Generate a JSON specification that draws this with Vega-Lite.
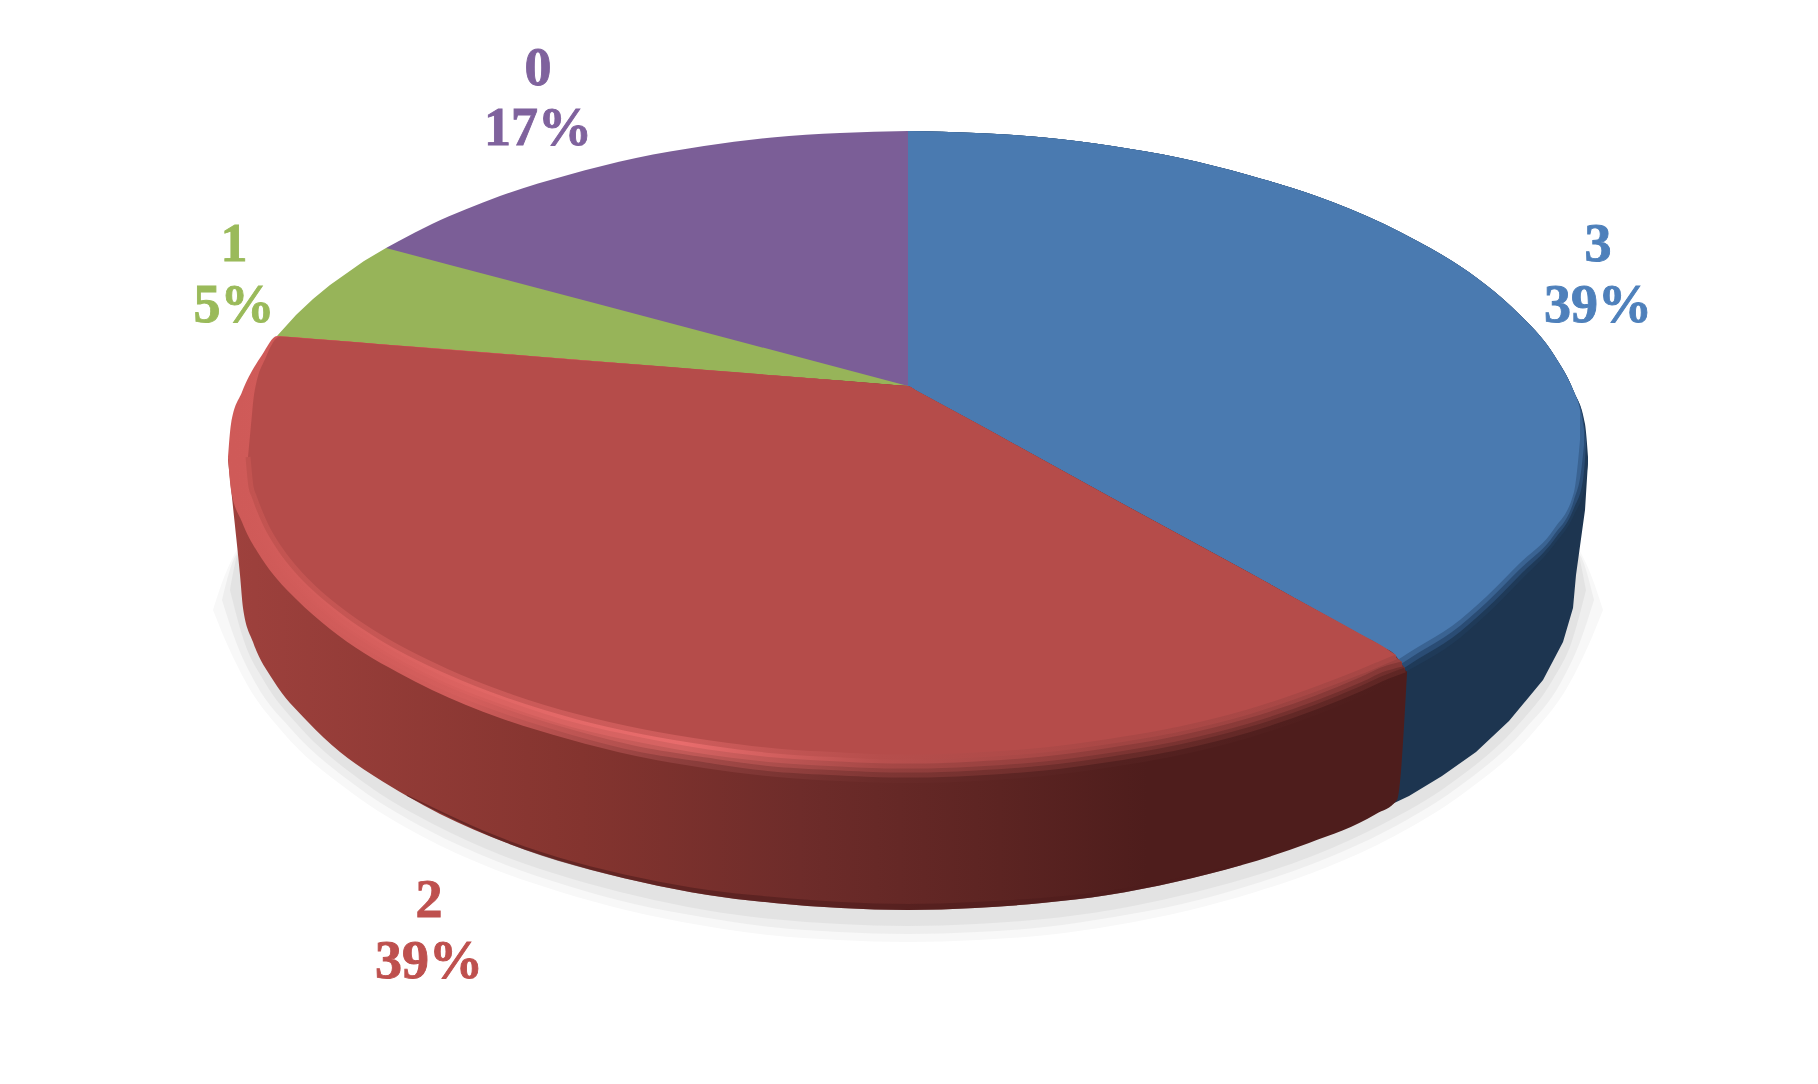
{
"$schema":"https://vega.github.io/schema/vega-lite/v6.json",
"width":1818,"height":1084,"padding":0,"autosize":{"type":"none"},"background":"white",
"config":{"view":{"stroke":null}},
"datasets":{
"shadow":[
{"r":"s0","x":213,"up":610,"lo":610},{"r":"s0","x":227,"up":570,"lo":644},{"r":"s0","x":248,"up":540,"lo":686},{"r":"s0","x":282.5,"up":540,"lo":732},{"r":"s0","x":352,"up":540,"lo":793},{"r":"s0","x":421.5,"up":540,"lo":836},{"r":"s0","x":491,"up":540,"lo":868},{"r":"s0","x":560.5,"up":540,"lo":892},{"r":"s0","x":630,"up":540,"lo":911},{"r":"s0","x":699.5,"up":540,"lo":925},{"r":"s0","x":769,"up":540,"lo":935},{"r":"s0","x":838.5,"up":540,"lo":940},{"r":"s0","x":908,"up":540,"lo":942},{"r":"s0","x":977.5,"up":540,"lo":940},{"r":"s0","x":1047,"up":540,"lo":935},{"r":"s0","x":1116.5,"up":540,"lo":925},{"r":"s0","x":1186,"up":540,"lo":911},{"r":"s0","x":1255.5,"up":540,"lo":892},{"r":"s0","x":1325,"up":540,"lo":868},{"r":"s0","x":1394.5,"up":540,"lo":836},{"r":"s0","x":1464,"up":540,"lo":793},{"r":"s0","x":1533.5,"up":540,"lo":732},{"r":"s0","x":1568,"up":540,"lo":686},{"r":"s0","x":1589,"up":570,"lo":644},{"r":"s0","x":1603,"up":610,"lo":610},
{"r":"s1","x":222,"up":600,"lo":600},{"r":"s1","x":236,"up":555,"lo":642},{"r":"s1","x":256,"up":540,"lo":684},{"r":"s1","x":291,"up":540,"lo":729},{"r":"s1","x":359,"up":540,"lo":788},{"r":"s1","x":428,"up":540,"lo":830},{"r":"s1","x":496,"up":540,"lo":861},{"r":"s1","x":565,"up":540,"lo":885},{"r":"s1","x":634,"up":540,"lo":904},{"r":"s1","x":702,"up":540,"lo":917},{"r":"s1","x":771,"up":540,"lo":927},{"r":"s1","x":839,"up":540,"lo":932},{"r":"s1","x":908,"up":540,"lo":934},{"r":"s1","x":977,"up":540,"lo":932},{"r":"s1","x":1045,"up":540,"lo":927},{"r":"s1","x":1114,"up":540,"lo":917},{"r":"s1","x":1182,"up":540,"lo":904},{"r":"s1","x":1251,"up":540,"lo":885},{"r":"s1","x":1320,"up":540,"lo":861},{"r":"s1","x":1388,"up":540,"lo":830},{"r":"s1","x":1457,"up":540,"lo":788},{"r":"s1","x":1525,"up":540,"lo":729},{"r":"s1","x":1560,"up":540,"lo":684},{"r":"s1","x":1580,"up":555,"lo":642},{"r":"s1","x":1594,"up":600,"lo":600},
{"r":"s2","x":230,"up":590,"lo":590},{"r":"s2","x":244,"up":540,"lo":641},{"r":"s2","x":264,"up":540,"lo":681},{"r":"s2","x":298,"up":540,"lo":725},{"r":"s2","x":366,"up":540,"lo":784},{"r":"s2","x":433,"up":540,"lo":824},{"r":"s2","x":501,"up":540,"lo":855},{"r":"s2","x":569,"up":540,"lo":878},{"r":"s2","x":637,"up":540,"lo":896},{"r":"s2","x":705,"up":540,"lo":910},{"r":"s2","x":772,"up":540,"lo":919},{"r":"s2","x":840,"up":540,"lo":924},{"r":"s2","x":908,"up":540,"lo":926},{"r":"s2","x":976,"up":540,"lo":924},{"r":"s2","x":1044,"up":540,"lo":919},{"r":"s2","x":1111,"up":540,"lo":910},{"r":"s2","x":1179,"up":540,"lo":896},{"r":"s2","x":1247,"up":540,"lo":878},{"r":"s2","x":1315,"up":540,"lo":855},{"r":"s2","x":1383,"up":540,"lo":824},{"r":"s2","x":1450,"up":540,"lo":784},{"r":"s2","x":1518,"up":540,"lo":725},{"r":"s2","x":1552,"up":540,"lo":681},{"r":"s2","x":1572,"up":540,"lo":641},{"r":"s2","x":1586,"up":590,"lo":590}
],
"sideBlue":[{"x":1390,"up":670,"lo":805},{"x":1409,"up":660,"lo":796},{"x":1442,"up":640,"lo":776},{"x":1476,"up":610,"lo":752},{"x":1509,"up":575,"lo":721},{"x":1543,"up":540,"lo":680},{"x":1563,"up":520,"lo":642},{"x":1573,"up":500,"lo":608},{"x":1576,"up":490,"lo":575},{"x":1585,"up":470,"lo":510},{"x":1588,"up":460,"lo":462}],
"sideRed":[{"x":228,"up":457,"lo":460},{"x":233,"up":470,"lo":507},{"x":240,"up":510,"lo":575},{"x":243,"up":515,"lo":608},{"x":253,"up":530,"lo":642},{"x":273,"up":560,"lo":680},{"x":307,"up":595,"lo":721},{"x":340,"up":620,"lo":752},{"x":374,"up":645,"lo":776},{"x":407,"up":665,"lo":796},{"x":440,"up":680,"lo":814},{"x":507,"up":710,"lo":843},{"x":574,"up":730,"lo":865},{"x":641,"up":745,"lo":882},{"x":708,"up":760,"lo":895},{"x":774,"up":770,"lo":903},{"x":841,"up":775,"lo":908},{"x":908,"up":775,"lo":910},{"x":975,"up":775,"lo":908},{"x":1042,"up":770,"lo":903},{"x":1108,"up":760,"lo":895},{"x":1175,"up":745,"lo":882},{"x":1242,"up":730,"lo":865},{"x":1309,"up":705,"lo":843},{"x":1376,"up":680,"lo":814},{"x":1397,"up":670,"lo":800},{"x":1407,"up":665,"lo":673}],
"rim":[{"x":407,"up":795,"lo":796},{"x":507,"up":840,"lo":843},{"x":641,"up":878,"lo":882},{"x":708,"up":890,"lo":895},{"x":774,"up":897,"lo":903},{"x":841,"up":902,"lo":908},{"x":908,"up":904,"lo":910},{"x":975,"up":902,"lo":908},{"x":1042,"up":898,"lo":903},{"x":1108,"up":891,"lo":895},{"x":1175,"up":879,"lo":882},{"x":1242,"up":863,"lo":865}],
"purple":[{"x":386,"up":248,"lo":249},{"x":398,"up":241.5,"lo":252.5},{"x":432,"up":224,"lo":261.5},{"x":466,"up":209.3,"lo":270.5},{"x":500,"up":196,"lo":279.5},{"x":568,"up":175,"lo":297.5},{"x":636,"up":158,"lo":315.5},{"x":704,"up":146,"lo":333.5},{"x":772,"up":137.5,"lo":351.5},{"x":840,"up":133,"lo":369.5},{"x":908,"up":131,"lo":387}],
"green":[{"x":277,"up":336,"lo":337},{"x":296,"up":315,"lo":339},{"x":313,"up":299,"lo":340},{"x":330,"up":285,"lo":341.5},{"x":347,"up":273,"lo":343},{"x":364,"up":261,"lo":344.5},{"x":386,"up":248,"lo":346},{"x":450,"up":264.9,"lo":351},{"x":600,"up":304.6,"lo":363},{"x":750,"up":344.2,"lo":375},{"x":908,"up":386,"lo":387}],
"blueTop":[
{"r":"b0","x":908,"up":131,"lo":765},{"r":"b0","x":976,"up":133,"lo":763},{"r":"b0","x":1044,"up":137.5,"lo":758},{"r":"b0","x":1112,"up":146,"lo":749},{"r":"b0","x":1180,"up":158,"lo":737},{"r":"b0","x":1248,"up":175,"lo":720},{"r":"b0","x":1316,"up":196,"lo":697},{"r":"b0","x":1384,"up":224,"lo":682},{"r":"b0","x":1418,"up":241.5,"lo":665},{"r":"b0","x":1452,"up":261,"lo":644},{"r":"b0","x":1486,"up":285,"lo":615},{"r":"b0","x":1520,"up":315,"lo":581},{"r":"b0","x":1554,"up":355,"lo":545},{"r":"b0","x":1574,"up":392,"lo":515},{"r":"b0","x":1585,"up":424,"lo":485},{"r":"b0","x":1588,"up":457,"lo":462},
{"r":"b1","x":908,"up":131,"lo":765},{"r":"b1","x":976,"up":133,"lo":763},{"r":"b1","x":1044,"up":137.5,"lo":758},{"r":"b1","x":1112,"up":146,"lo":749},{"r":"b1","x":1180,"up":158,"lo":737},{"r":"b1","x":1248,"up":175,"lo":720},{"r":"b1","x":1316,"up":196,"lo":697},{"r":"b1","x":1384,"up":224,"lo":680},{"r":"b1","x":1418,"up":241.5,"lo":659},{"r":"b1","x":1452,"up":261,"lo":638},{"r":"b1","x":1486,"up":285,"lo":609},{"r":"b1","x":1520,"up":315,"lo":575},{"r":"b1","x":1554,"up":355,"lo":540},{"r":"b1","x":1574,"up":392,"lo":508},{"r":"b1","x":1583,"up":418,"lo":480},{"r":"b1","x":1586,"up":440,"lo":445},
{"r":"b2","x":908,"up":131,"lo":765},{"r":"b2","x":976,"up":133,"lo":763},{"r":"b2","x":1044,"up":137.5,"lo":758},{"r":"b2","x":1112,"up":146,"lo":749},{"r":"b2","x":1180,"up":158,"lo":737},{"r":"b2","x":1248,"up":175,"lo":720},{"r":"b2","x":1316,"up":196,"lo":697},{"r":"b2","x":1384,"up":224,"lo":674},{"r":"b2","x":1418,"up":241.5,"lo":653},{"r":"b2","x":1452,"up":261,"lo":632},{"r":"b2","x":1486,"up":285,"lo":603},{"r":"b2","x":1520,"up":315,"lo":569},{"r":"b2","x":1554,"up":355,"lo":535},{"r":"b2","x":1574,"up":392,"lo":500},{"r":"b2","x":1581,"up":412,"lo":472},{"r":"b2","x":1584,"up":430,"lo":445},
{"r":"b3","x":908,"up":131,"lo":765},{"r":"b3","x":976,"up":133,"lo":763},{"r":"b3","x":1044,"up":137.5,"lo":758},{"r":"b3","x":1112,"up":146,"lo":749},{"r":"b3","x":1180,"up":158,"lo":737},{"r":"b3","x":1248,"up":175,"lo":720},{"r":"b3","x":1316,"up":196,"lo":697},{"r":"b3","x":1384,"up":224,"lo":668},{"r":"b3","x":1418,"up":241.5,"lo":647},{"r":"b3","x":1452,"up":261,"lo":626},{"r":"b3","x":1486,"up":285,"lo":597},{"r":"b3","x":1520,"up":315,"lo":563},{"r":"b3","x":1554,"up":355,"lo":529},{"r":"b3","x":1574,"up":392,"lo":492},{"r":"b3","x":1578,"up":402,"lo":462},{"r":"b3","x":1580,"up":410,"lo":440}
],
"red0":[{"x":228,"up":457,"lo":457},{"x":231,"up":424,"lo":490},{"x":242,"up":392,"lo":522},{"x":262,"up":355,"lo":559},{"x":277,"up":336,"lo":579},{"x":296,"up":337.5,"lo":599},{"x":330,"up":340,"lo":629},{"x":364,"up":343,"lo":653},{"x":398,"up":345.5,"lo":672.5},{"x":432,"up":348,"lo":690},{"x":500,"up":353.5,"lo":718},{"x":568,"up":359,"lo":739},{"x":636,"up":364.5,"lo":756},{"x":704,"up":370,"lo":768},{"x":772,"up":375.5,"lo":776.5},{"x":840,"up":380.5,"lo":781},{"x":900,"up":385.4,"lo":783},{"x":908,"up":386,"lo":783},{"x":916,"up":390.4,"lo":783},{"x":976,"up":423,"lo":781},{"x":1044,"up":460.5,"lo":776},{"x":1112,"up":498,"lo":767},{"x":1180,"up":535,"lo":755},{"x":1248,"up":572,"lo":738},{"x":1316,"up":610,"lo":715},{"x":1360,"up":634.5,"lo":697},{"x":1384,"up":648,"lo":686},{"x":1393,"up":653,"lo":681},{"x":1407,"up":673,"lo":673}],
"red1":[{"x":234,"up":457,"lo":457},{"x":237,"up":425,"lo":489},{"x":247,"up":394,"lo":520},{"x":268,"up":358,"lo":556},{"x":283,"up":337,"lo":578},{"x":301,"up":338,"lo":596},{"x":335,"up":340.6,"lo":625},{"x":369,"up":343.3,"lo":648},{"x":436,"up":348.6,"lo":684},{"x":504,"up":354,"lo":711},{"x":571,"up":359.3,"lo":732},{"x":638,"up":364.6,"lo":749},{"x":706,"up":370,"lo":760},{"x":773,"up":375.3,"lo":769},{"x":841,"up":380.7,"lo":773},{"x":900,"up":385.4,"lo":775},{"x":908,"up":386,"lo":775},{"x":916,"up":390.4,"lo":775},{"x":976,"up":423,"lo":773},{"x":1044,"up":460.5,"lo":768},{"x":1112,"up":498,"lo":759},{"x":1180,"up":535,"lo":747},{"x":1248,"up":572,"lo":730},{"x":1316,"up":610,"lo":707},{"x":1360,"up":634.5,"lo":689},{"x":1384,"up":648,"lo":678},{"x":1405,"up":668,"lo":670}],
"red2":[{"x":241,"up":457,"lo":457},{"x":244,"up":426,"lo":488},{"x":254,"up":396,"lo":518},{"x":274,"up":361,"lo":553},{"x":293,"up":337,"lo":577},{"x":308,"up":338.5,"lo":592},{"x":341,"up":341,"lo":620},{"x":374,"up":343.7,"lo":642},{"x":441,"up":349,"lo":678},{"x":508,"up":354.3,"lo":704},{"x":574,"up":359.6,"lo":725},{"x":641,"up":364.9,"lo":740},{"x":708,"up":370.2,"lo":752},{"x":775,"up":375.5,"lo":760},{"x":841,"up":380.7,"lo":764},{"x":900,"up":385.4,"lo":766},{"x":908,"up":386,"lo":766},{"x":916,"up":390.4,"lo":766},{"x":976,"up":423,"lo":764},{"x":1044,"up":460.5,"lo":759},{"x":1112,"up":498,"lo":750},{"x":1180,"up":535,"lo":738},{"x":1248,"up":572,"lo":721},{"x":1316,"up":610,"lo":698},{"x":1360,"up":634.5,"lo":680},{"x":1384,"up":648,"lo":669},{"x":1402,"up":662,"lo":664}],
"red3":[{"x":248,"up":457,"lo":457},{"x":251,"up":425,"lo":487},{"x":254,"up":395,"lo":496},{"x":266,"up":357,"lo":525.5},{"x":280,"up":336.5,"lo":549},{"x":300,"up":338,"lo":574},{"x":314,"up":339,"lo":588},{"x":347,"up":341.6,"lo":615},{"x":380,"up":344.2,"lo":637},{"x":446,"up":349.4,"lo":671},{"x":512,"up":354.6,"lo":697},{"x":578,"up":359.9,"lo":717},{"x":644,"up":365.1,"lo":732},{"x":710,"up":370.3,"lo":743},{"x":776,"up":375.5,"lo":751},{"x":842,"up":380.8,"lo":755},{"x":900,"up":385.4,"lo":757},{"x":908,"up":386,"lo":757},{"x":916,"up":390.4,"lo":757},{"x":976,"up":423,"lo":755},{"x":1044,"up":460.5,"lo":750},{"x":1112,"up":498,"lo":741},{"x":1180,"up":535,"lo":729},{"x":1248,"up":572,"lo":712},{"x":1316,"up":609.6,"lo":689},{"x":1360,"up":633.7,"lo":672},{"x":1384,"up":647,"lo":662},{"x":1396,"up":655,"lo":657}],
"labels":[
{"slice":"0","t":"0","x":538,"y":85},{"slice":"0","t":"17%","x":538,"y":145},
{"slice":"1","t":"1","x":234,"y":261},{"slice":"1","t":"5%","x":234,"y":322},
{"slice":"3","t":"3","x":1598,"y":261},{"slice":"3","t":"39%","x":1598,"y":322},
{"slice":"2","t":"2","x":429,"y":917},{"slice":"2","t":"39%","x":429,"y":978}
]
},
"encoding":{"x":{"field":"x","type":"quantitative","axis":null,"scale":{"domain":[0,1818],"nice":false,"zero":false}}},
"layer":[
{"encoding":{
"y":{"field":"up","type":"quantitative","axis":null,"scale":{"domain":[0,1084],"reverse":true,"nice":false,"zero":false}},
"y2":{"field":"lo"}},
"layer":[
{"data":{"name":"shadow"},"mark":{"type":"area","interpolate":"monotone"},"encoding":{"color":{"field":"r","type":"nominal","legend":null,"scale":{"domain":["s0","s1","s2","b0","b1","b2","b3","0","1","2","3"],"range":["#F8F8F8","#EEEEEE","#E3E3E3","#1F3A58","#2A4C74","#3A6392","#4A7AB0","#7F629D","#9ABA5A","#BE504E","#4E80BB"]}}}},
{"data":{"name":"sideBlue"},"mark":{"type":"area","fill":"#1D3550"}},
{"data":{"name":"sideRed"},"mark":{"type":"area","interpolate":"monotone","fill":{"gradient":"linear","x1":0,"y1":0,"x2":1,"y2":0,"stops":[{"offset":0,"color":"#9E413D"},{"offset":0.3,"color":"#84342F"},{"offset":0.485,"color":"#6E2C2A"},{"offset":0.655,"color":"#5C2422"},{"offset":0.78,"color":"#4E1D1C"},{"offset":1,"color":"#4E1D1C"}]}}},
{"data":{"name":"rim"},"mark":{"type":"area","interpolate":"monotone","fill":"#4E1D1C","opacity":0.6}},
{"data":{"name":"purple"},"mark":{"type":"area","interpolate":"monotone","fill":"#7B5E97"}},
{"data":{"name":"green"},"mark":{"type":"area","fill":"#97B459"}},
{"data":{"name":"blueTop"},"mark":{"type":"area","interpolate":"monotone"},"encoding":{"color":{"field":"r","type":"nominal","legend":null}}},
{"data":{"name":"red0"},"mark":{"type":"area","interpolate":"monotone","fill":{"gradient":"linear","x1":0,"y1":0,"x2":1,"y2":0,"stops":[{"offset":0,"color":"#CF5A58"},{"offset":0.2,"color":"#D05C5A"},{"offset":0.38,"color":"#8E3F3D"},{"offset":0.55,"color":"#6A2B29"},{"offset":0.75,"color":"#542120"},{"offset":1,"color":"#4E1D1C"}]}}},
{"data":{"name":"red1"},"mark":{"type":"area","interpolate":"monotone","fill":{"gradient":"linear","x1":0,"y1":0,"x2":1,"y2":0,"stops":[{"offset":0,"color":"#CF5A58"},{"offset":0.2,"color":"#D8605E"},{"offset":0.38,"color":"#C25A58"},{"offset":0.55,"color":"#94403E"},{"offset":0.75,"color":"#7C3432"},{"offset":1,"color":"#702E2C"}]}}},
{"data":{"name":"red2"},"mark":{"type":"area","interpolate":"monotone","fill":{"gradient":"linear","x1":0,"y1":0,"x2":1,"y2":0,"stops":[{"offset":0,"color":"#CF5A58"},{"offset":0.2,"color":"#E06664"},{"offset":0.38,"color":"#E86C6C"},{"offset":0.55,"color":"#B8504E"},{"offset":0.75,"color":"#A04442"},{"offset":1,"color":"#9A4240"}]}}},
{"data":{"name":"red3"},"mark":{"type":"area","interpolate":"monotone","fill":"#B54C4A"}}
]},
{"encoding":{"y":{"field":"lo","type":"quantitative","axis":null,"scale":{"domain":[0,1084],"reverse":true,"nice":false,"zero":false}}},
"layer":[
{"data":{"name":"red1"},"mark":{"type":"line","interpolate":"monotone","strokeWidth":5,"stroke":{"gradient":"linear","x1":0,"y1":0,"x2":1,"y2":0,"stops":[{"offset":0,"color":"#CF5A58"},{"offset":0.2,"color":"#D45E5C"},{"offset":0.38,"color":"#A84C4A"},{"offset":0.55,"color":"#7F3634"},{"offset":0.75,"color":"#682B29"},{"offset":1,"color":"#5F2624"}]}}},
{"data":{"name":"red2"},"mark":{"type":"line","interpolate":"monotone","strokeWidth":5,"stroke":{"gradient":"linear","x1":0,"y1":0,"x2":1,"y2":0,"stops":[{"offset":0,"color":"#CF5A58"},{"offset":0.2,"color":"#DC6361"},{"offset":0.38,"color":"#D56362"},{"offset":0.55,"color":"#A64846"},{"offset":0.75,"color":"#8E3C3A"},{"offset":1,"color":"#853836"}]}}},
{"data":{"name":"red3"},"mark":{"type":"line","interpolate":"monotone","strokeWidth":5,"stroke":{"gradient":"linear","x1":0,"y1":0,"x2":1,"y2":0,"stops":[{"offset":0,"color":"#C25350"},{"offset":0.2,"color":"#CA5957"},{"offset":0.38,"color":"#CE5C5B"},{"offset":0.55,"color":"#B64E4C"},{"offset":0.75,"color":"#AA4846"},{"offset":1,"color":"#A74745"}]}}}
]},
{"data":{"name":"labels"},"mark":{"type":"text","font":"Liberation Serif","fontWeight":"bold","fontSize":54,"strokeWidth":0.9,"align":"center","baseline":"alphabetic"},
"encoding":{
"y":{"field":"y","type":"quantitative","axis":null,"scale":{"domain":[0,1084],"reverse":true,"nice":false,"zero":false}},
"text":{"field":"t","type":"nominal"},
"color":{"field":"slice","type":"nominal","legend":null},
"stroke":{"field":"slice","type":"nominal","legend":null,"scale":{"domain":["0","1","2","3"],"range":["#7F629D","#9ABA5A","#BE504E","#4E80BB"]}}}}
]
}
